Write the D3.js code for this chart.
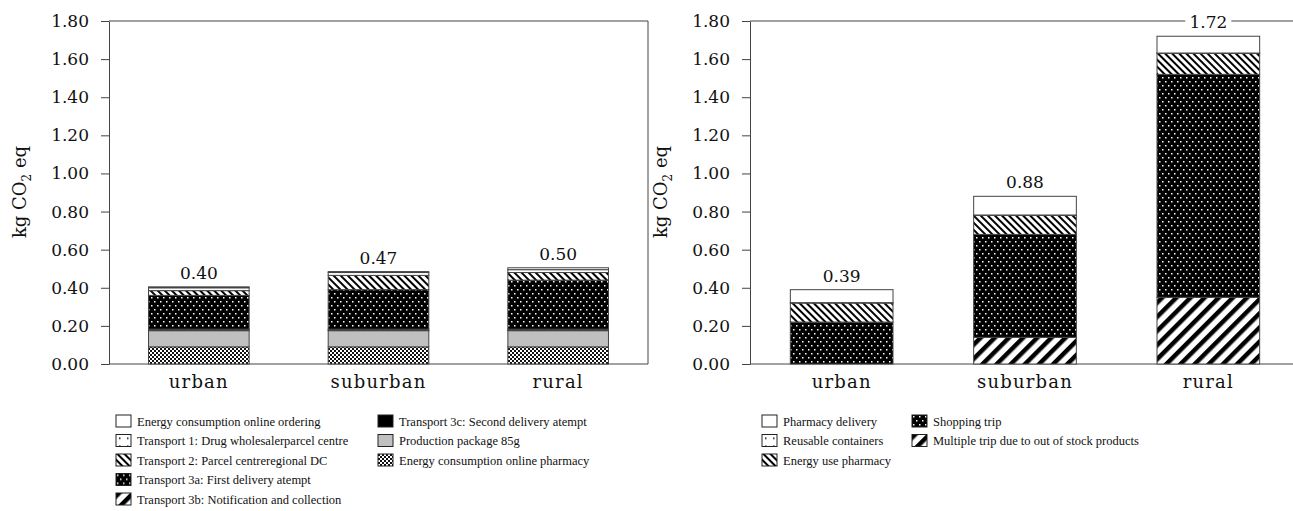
<!DOCTYPE html>
<html>
<head>
<meta charset="utf-8">
<script src="https://cdn.jsdelivr.net/npm/d3@7"></script>
<style>
  body { margin: 0; background: #fff; }
  svg { display: block; }
  .tick text { font-family: "DejaVu Serif", serif; }
  .leg text { font-family: "Liberation Serif", serif; }
</style>
</head>
<body>
<div id="chart"></div>
<script>
// data (kg CO2 eq)
const categories = ['urban', 'suburban', 'rural']
const yTicks = [0, 0.2, 0.4, 0.6, 0.8, 1.0, 1.2, 1.4, 1.6, 1.8]

// left chart: online pharmacy, bottom to top
const leftSeries = ['Energy consumption online pharmacy', 'Production package 85g',
  'Transport 3c: Second delivery atempt', 'Transport 3b: Notification and collection',
  'Transport 3a: First delivery atempt', 'Transport 2: Parcel centreregional DC',
  'Transport 1: Drug wholesalerparcel centre', 'Energy consumption online ordering']
const onlinePharmacy = [0.09, 0.09, 0.09]
const productionPackage = [0.085, 0.085, 0.085]
const transport3c = [0.004, 0.004, 0.004]
const transport3b = [0.004, 0.004, 0.004]
const transport3a = [0.177, 0.207, 0.257]
const transport2 = [0.025, 0.075, 0.04]
const transport1 = [0.015, 0.015, 0.015]
const onlineOrdering = [0.005, 0.005, 0.01]
const leftTotals = ['0.40', '0.47', '0.50']

// right chart: local pharmacy, bottom to top
const rightSeries = ['Multiple trip due to out of stock products', 'Shopping trip',
  'Energy use pharmacy', 'Reusable containers', 'Pharmacy delivery']
const multipleTrip = [0, 0.14, 0.35]
const shoppingTrip = [0.22, 0.54, 1.17]
const energyPharmacy = [0.1, 0.1, 0.11]
const reusableContainers = [0.002, 0.002, 0.002]
const pharmacyDelivery = [0.068, 0.098, 0.088]
const rightTotals = ['0.39', '0.88', '1.72']

// legend order (as in picture, column-wise)
const leftLegend = ['Energy consumption online ordering', 'Transport 1: Drug wholesalerparcel centre',
  'Transport 2: Parcel centreregional DC', 'Transport 3a: First delivery atempt',
  'Transport 3b: Notification and collection', 'Transport 3c: Second delivery atempt',
  'Production package 85g', 'Energy consumption online pharmacy']
const rightLegend = ['Pharmacy delivery', 'Reusable containers', 'Energy use pharmacy',
  'Shopping trip', 'Multiple trip due to out of stock products']

const fills = {
  'Energy consumption online pharmacy': 'url(#checker)',
  'Production package 85g': '#c0c0c0',
  'Transport 3c: Second delivery atempt': '#000',
  'Transport 3b: Notification and collection': 'url(#diagFwd)',
  'Transport 3a: First delivery atempt': 'url(#blackDots)',
  'Transport 2: Parcel centreregional DC': 'url(#diagBack)',
  'Transport 1: Drug wholesalerparcel centre': 'url(#sparseDots)',
  'Energy consumption online ordering': '#fff',
  'Multiple trip due to out of stock products': 'url(#diagFwd)',
  'Shopping trip': 'url(#blackDots)',
  'Energy use pharmacy': 'url(#diagBack)',
  'Reusable containers': 'url(#sparseDots)',
  'Pharmacy delivery': '#fff'
}

const width = 1293, height = 511
const svg = d3.select('#chart').append('svg')
  .attr('width', width).attr('height', height)

// patterns
const defs = svg.append('defs')
const chk = defs.append('pattern').attr('id', 'checker').attr('patternUnits', 'userSpaceOnUse')
  .attr('width', 4).attr('height', 4)
chk.append('rect').attr('width', 4).attr('height', 4).attr('fill', '#fff')
chk.append('rect').attr('width', 2).attr('height', 2).attr('fill', '#111')
chk.append('rect').attr('x', 2).attr('y', 2).attr('width', 2).attr('height', 2).attr('fill', '#111')

const bd = defs.append('pattern').attr('id', 'blackDots').attr('patternUnits', 'userSpaceOnUse')
  .attr('width', 6).attr('height', 8)
bd.append('rect').attr('width', 6).attr('height', 8).attr('fill', '#000')
bd.append('rect').attr('x', 1).attr('y', 1).attr('width', 1.5).attr('height', 1.5).attr('fill', '#fff')
bd.append('rect').attr('x', 4).attr('y', 5).attr('width', 1.5).attr('height', 1.5).attr('fill', '#fff')

const sd = defs.append('pattern').attr('id', 'sparseDots').attr('patternUnits', 'userSpaceOnUse')
  .attr('width', 8).attr('height', 8)
sd.append('rect').attr('width', 8).attr('height', 8).attr('fill', '#fff')
sd.append('rect').attr('x', 3).attr('y', 3).attr('width', 1.5).attr('height', 1.5).attr('fill', '#000')

const db = defs.append('pattern').attr('id', 'diagBack').attr('patternUnits', 'userSpaceOnUse')
  .attr('width', 5).attr('height', 5).attr('patternTransform', 'rotate(-45)')
db.append('rect').attr('width', 5).attr('height', 5).attr('fill', '#fff')
db.append('rect').attr('width', 2).attr('height', 5).attr('fill', '#000')

const df = defs.append('pattern').attr('id', 'diagFwd').attr('patternUnits', 'userSpaceOnUse')
  .attr('width', 10).attr('height', 10).attr('patternTransform', 'rotate(45)')
df.append('rect').attr('width', 10).attr('height', 10).attr('fill', '#fff')
df.append('rect').attr('width', 4.5).attr('height', 10).attr('fill', '#000')

const plotTop = 21, plotBottom = 364

function drawPanel(opt) {
  const yScale = d3.scaleLinear().domain([0, 1.8]).range([plotBottom, plotTop])
  const xScale = d3.scaleBand().domain(categories)
    .range([opt.x0, opt.x1]).paddingInner(0.44).paddingOuter(0.22)

  const g = svg.append('g')

  // y axis
  const yAxis = d3.axisLeft(yScale).tickValues(yTicks).tickFormat(d => d.toFixed(2))
    .tickSize(8).tickSizeOuter(0).tickPadding(12)
  const yg = g.append('g').attr('transform', `translate(${opt.x0},0)`).call(yAxis)
  yg.selectAll('text').attr('font-size', 17).attr('fill', '#111')
  yg.selectAll('line, path').attr('stroke', '#444')

  // x axis baseline + frame
  g.append('line').attr('x1', opt.x0).attr('x2', opt.lineEnd)
    .attr('y1', plotBottom).attr('y2', plotBottom).attr('stroke', '#444')
  g.append('line').attr('x1', opt.x0).attr('x2', opt.lineEnd)
    .attr('y1', plotTop).attr('y2', plotTop).attr('stroke', '#444')
  if (opt.box) {
    g.append('line').attr('x1', opt.lineEnd).attr('x2', opt.lineEnd)
      .attr('y1', plotTop).attr('y2', plotBottom).attr('stroke', '#444')
  }
  g.selectAll('.cat').data(categories).join('text')
    .attr('x', d => xScale(d) + xScale.bandwidth() / 2)
    .attr('y', 388)
    .attr('text-anchor', 'middle')
    .attr('font-family', 'DejaVu Serif, serif')
    .attr('font-size', 18)
    .attr('letter-spacing', 1.2)
    .attr('fill', '#111')
    .text(d => d)

  // axis title
  const t = g.append('text')
    .attr('transform', `translate(${opt.titleX},192) rotate(-90)`)
    .attr('text-anchor', 'middle')
    .attr('font-family', 'DejaVu Serif, serif')
    .attr('font-size', 18)
    .attr('fill', '#111')
  t.append('tspan').text('kg CO')
  t.append('tspan').attr('font-size', 12).attr('dy', 5).text('2')
  t.append('tspan').attr('dy', -5).text(' eq')

  // stacked bars
  const rows = categories.map((c, i) => {
    const r = { cat: c }
    opt.series.forEach((s, j) => { r[s] = opt.values[j][i] })
    return r
  })
  const stacked = d3.stack().keys(opt.series)(rows)
  g.selectAll('.layer').data(stacked).join('g')
    .attr('fill', d => fills[d.key])
    .selectAll('rect').data(d => d).join('rect')
    .attr('x', d => xScale(d.data.cat))
    .attr('width', xScale.bandwidth())
    .attr('y', d => yScale(d[1]))
    .attr('height', d => yScale(d[0]) - yScale(d[1]))
    .attr('stroke', '#444')
    .attr('stroke-width', 1)

  // totals
  const sums = rows.map(r => d3.sum(opt.series, s => r[s]))
  const lab = g.selectAll('.tot').data(categories).join('g')
    .attr('transform', (d, i) => `translate(${xScale(d) + xScale.bandwidth() / 2},${yScale(sums[i]) - 8})`)
  lab.append('rect').attr('x', -23).attr('y', -15).attr('width', 46).attr('height', 18).attr('fill', '#fff')
  lab.append('text')
    .attr('text-anchor', 'middle')
    .attr('font-family', 'DejaVu Serif, serif')
    .attr('font-size', 17)
    .attr('fill', '#111')
    .text((d, i) => opt.totals[i])

  // legend
  const lg = g.append('g').attr('class', 'leg').attr('transform', `translate(${opt.legX},0)`)
  const item = lg.selectAll('.li').data(opt.legend).join('g')
    .attr('transform', (d, i) => {
      const col = i < opt.perCol ? 0 : 1
      const row = i < opt.perCol ? i : i - opt.perCol
      return `translate(${col * opt.colW},${415 + row * 19.5})`
    })
  item.append('rect').attr('width', 15).attr('height', 12)
    .attr('fill', d => fills[d]).attr('stroke', '#222')
  item.append('text').attr('x', 21).attr('y', 10.5)
    .attr('font-size', 12.5)
    .attr('fill', '#111')
    .text(d => d)
}

drawPanel({
  x0: 109, x1: 648, lineEnd: 648, box: true, titleX: 26, legX: 116, colW: 262, perCol: 5,
  series: leftSeries,
  values: [onlinePharmacy, productionPackage, transport3c, transport3b, transport3a, transport2, transport1, onlineOrdering],
  totals: leftTotals, legend: leftLegend
})
drawPanel({
  x0: 750, x1: 1300, lineEnd: 1293, box: false, titleX: 667, legX: 762, colW: 150, perCol: 3,
  series: rightSeries,
  values: [multipleTrip, shoppingTrip, energyPharmacy, reusableContainers, pharmacyDelivery],
  totals: rightTotals, legend: rightLegend
})
</script>
</body>
</html>
